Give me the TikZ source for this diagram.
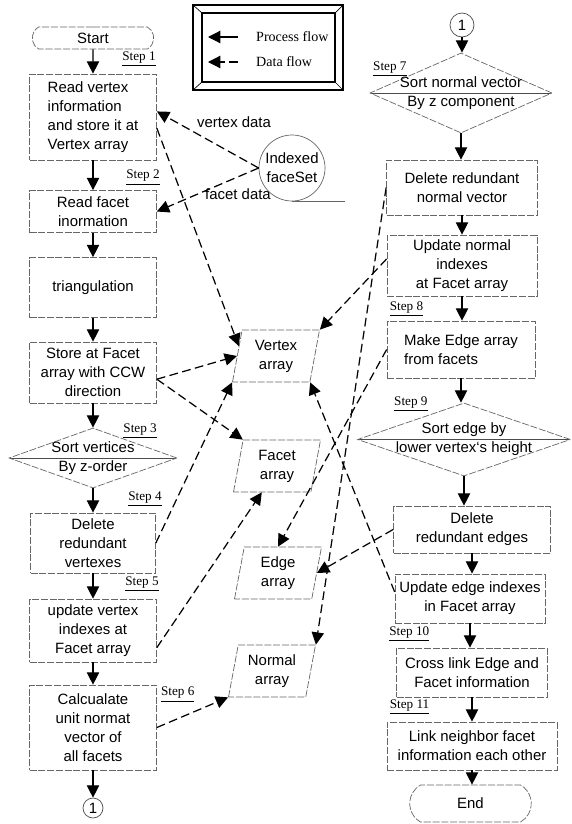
\documentclass[tikz,border=0pt]{standalone}
\usepackage{fontspec}
\setmainfont{Liberation Serif}
\setsansfont{Liberation Sans}
\usepackage{tikz}
\usetikzlibrary{arrows.meta,calc,positioning,shapes.geometric,shapes.misc}

\begin{document}
\begin{tikzpicture}[font=\sffamily\fontsize{8.5}{10.8}\selectfont,
  proc/.style={draw=black!60,dash pattern=on 4pt off 1pt,minimum width=2.54cm,align=center,inner sep=1pt},
  sortbox/.style={diamond,draw=black!60,dash pattern=on 4pt off 1pt,inner sep=0pt,
    path picture={\draw[solid,black!70] (path picture bounding box.west) -- (path picture bounding box.east);}},
  datbox/.style={trapezium,trapezium left angle=75,trapezium right angle=105,trapezium stretches body,
    draw=black!60,dash pattern=on 4pt off 1pt,minimum width=1.74cm,minimum height=1.04cm,align=center,inner sep=1pt},
  term/.style={rounded rectangle,rounded rectangle arc length=120,draw=black!60,dash pattern=on 4pt off 1pt,minimum width=2.5cm,inner sep=1pt},
  conn/.style={circle,draw=black!70,inner sep=0pt,align=center},
  steplbl/.style={font=\rmfamily\fontsize{7.5}{9}\selectfont,inner sep=0.5pt},
  legtxt/.style={font=\rmfamily\fontsize{8}{9.6}\selectfont,anchor=west},
  pflow/.style={-{Triangle[length=7pt,width=7pt]},line width=0.7pt},
  dflow/.style={-{Triangle[length=7pt,width=7pt]},line width=0.7pt,dash pattern=on 5pt off 2.5pt}]
\useasboundingbox (0,0) rectangle (11.44,-16.48);

% legend
\draw[line width=0.8pt] (3.86,-0.1) rectangle (6.86,-1.8);
\draw[line width=1.1pt] (4.04,-0.26) rectangle (6.7,-1.64);
\draw (3.86,-0.1) -- (4.04,-0.26) (6.86,-0.1) -- (6.7,-0.26) (3.86,-1.8) -- (4.04,-1.64) (6.86,-1.8) -- (6.7,-1.64);
\node[legtxt] (lpf) at (5.0,-0.74) {Process flow}; \coordinate (lpfe) at (4.16,-0.74);
\node[legtxt] (ldf) at (5.0,-1.24) {Data flow}; \coordinate (ldfe) at (4.16,-1.24);
\draw[pflow,shorten <=7pt] (lpf.west) -- (lpfe);
\draw[dflow,shorten <=7pt] (ldf.west) -- (ldfe);

% left column
\node[term,minimum height=0.44cm] (st) at (1.86,-0.76) {Start};
\node[proc,minimum height=1.72cm,align=left] (b1) at (1.86,-2.34) {Read vertex\\information\\and store it at\\Vertex array};
\node[proc,minimum height=0.84cm] (b2) at (1.86,-4.23) {Read facet\\inormation};
\node[proc,minimum height=1.2cm] (b3) at (1.86,-5.75) {triangulation};
\node[proc,minimum height=1.22cm] (b4) at (1.86,-7.45) {Store at Facet\\array with CCW\\direction};
\node[sortbox,minimum width=3.36cm,minimum height=1.2cm] (s3) at (1.86,-9.16) {};
\node[align=center] (s3t) at (s3) {Sort vertices\\By z-order};
\node[proc,minimum width=2.5cm,minimum height=1.2cm] (b5) at (1.86,-10.86) {Delete\\redundant\\vertexes};
\node[proc,minimum height=1.26cm] (b6) at (1.86,-12.61) {update vertex\\indexes at\\Facet array};
\node[proc,minimum height=1.7cm] (b7) at (1.86,-14.55) {Calcualate\\unit normat\\vector of\\all facets};
\node[conn,minimum size=0.4cm] (c1) at (1.86,-16.16) {1};

\node[steplbl,above left=0.12cm and 0cm of b1.north east] (l1) {\underline{Step 1}};
\node[steplbl,above left=0.08cm and -0.08cm of b2.north east] (l2) {\underline{Step 2}};
\node[steplbl,anchor=south east] (l3) at (3.16,-8.8) {\underline{Step 3}};
\node[steplbl,above left=0.1cm and -0.14cm of b5.north east] (l4) {\underline{Step 4}};
\node[steplbl,above left=0.12cm and -0.06cm of b6.north east] (l5) {\underline{Step 5}};
\node[steplbl,below right=0.02cm and 0.06cm of b7.north east] (l6) {\underline{Step 6}};

% data store and arrays
\node[conn,minimum size=1.32cm,draw=black!60] (ifs) at (5.84,-3.36) {Indexed\\faceSet};
\draw[black!60] (ifs.south) -- ++(1.06,0);
\node (lvd) at (4.68,-2.44) {vertex data};
\node (lfd) at (4.76,-3.88) {facet data};
\node[datbox] (va) at (5.52,-7.12) {Vertex\\array};
\node[datbox] (fa) at (5.54,-9.32) {Facet\\array};
\node[datbox] (ea) at (5.56,-11.46) {Edge\\array};
\node[datbox] (na) at (5.44,-13.42) {Normal\\array};

% right column
\node[conn,minimum size=0.48cm] (c1r) at (9.24,-0.5) {1};
\node[sortbox,minimum width=3.64cm,minimum height=1.6cm] (s7) at (9.22,-1.86) {};
\node[align=center] (s7t) at (s7) {Sort normal vector\\By z component};
\node[proc,minimum width=3.02cm,minimum height=1.1cm] (dn) at (9.24,-3.75) {Delete redundant\\normal vector};
\node[proc,minimum width=3cm,minimum height=1.22cm] (un) at (9.24,-5.31) {Update normal\\indexes\\at Facet array};
\node[proc,minimum width=2.96cm,minimum height=1.14cm,align=left] (me) at (9.22,-6.99) {Make Edge array\\from facets};
\node[sortbox,minimum width=4.26cm,minimum height=1.46cm] (s9) at (9.28,-8.79) {};
\node[align=center] (s9t) at (s9) {Sort edge by\\lower vertex`s height};
\node[proc,minimum width=3.14cm,minimum height=0.94cm] (de) at (9.44,-10.59) {Delete\\redundant edges};
\node[proc,minimum width=3cm,minimum height=0.98cm] (ue) at (9.4,-11.97) {Update edge indexes\\in Facet array};
\node[proc,minimum width=3.02cm,minimum height=0.98cm] (xl) at (9.44,-13.45) {Cross link Edge and\\Facet information};
\node[proc,minimum width=3.4cm,minimum height=0.96cm] (ln) at (9.44,-14.92) {Link neighbor facet\\information each other};
\node[term,minimum height=0.74cm] (en) at (9.41,-16.07) {End};

\node[steplbl,anchor=south west] (l7) at (7.44,-1.56) {\underline{Step 7}};
\node[steplbl,above right=0.06cm and 0.04cm of me.north west] (l8) {\underline{Step 8}};
\node[steplbl,anchor=south west] (l9) at (7.86,-8.26) {\underline{Step 9}};
\node[steplbl,above right=0.1cm and -0.16cm of xl.north west] (l10) {\underline{Step 10}};
\node[steplbl,above right=0.12cm and 0.04cm of ln.north west] (l11) {\underline{Step 11}};

% process flow
\foreach \a/\b in {st/b1,b1/b2,b2/b3,b3/b4,b4/s3,s3/b5,b5/b6,b6/b7,b7/c1,
  c1r/s7,s7/dn,dn/un,un/me,me/s9,s9/de,de/ue,ue/xl,xl/ln,ln/en}
  \draw[pflow] (\a) -- (\a |- \b.north);

% data flow
\draw[dflow] (ifs.west) -- (b1.5);
\draw[dflow] (ifs.west) -- (b2.east);
\draw[dflow] (b1.-10) -- (va.165);
\draw[dflow] (b4.-6) -- (va.180);
\draw[dflow] (b4.-6) -- (fa.top left corner);
\draw[dflow] (b5.east) -- (va.bottom left corner);
\draw[dflow] (b6.-15) -- (fa.240);
\draw[dflow] (b7.east) -- (na.bottom left corner);
\draw[dflow] (un.175) -- (va.top right corner);
\draw[dflow] (dn.west) -- (na.top right corner);
\draw[dflow] (me.west) -- (ea.north);
\draw[dflow] (de.west) -- (ea.east);
\draw[dflow] (ue.175) -- (va.bottom right corner);
\end{tikzpicture}
\end{document}
